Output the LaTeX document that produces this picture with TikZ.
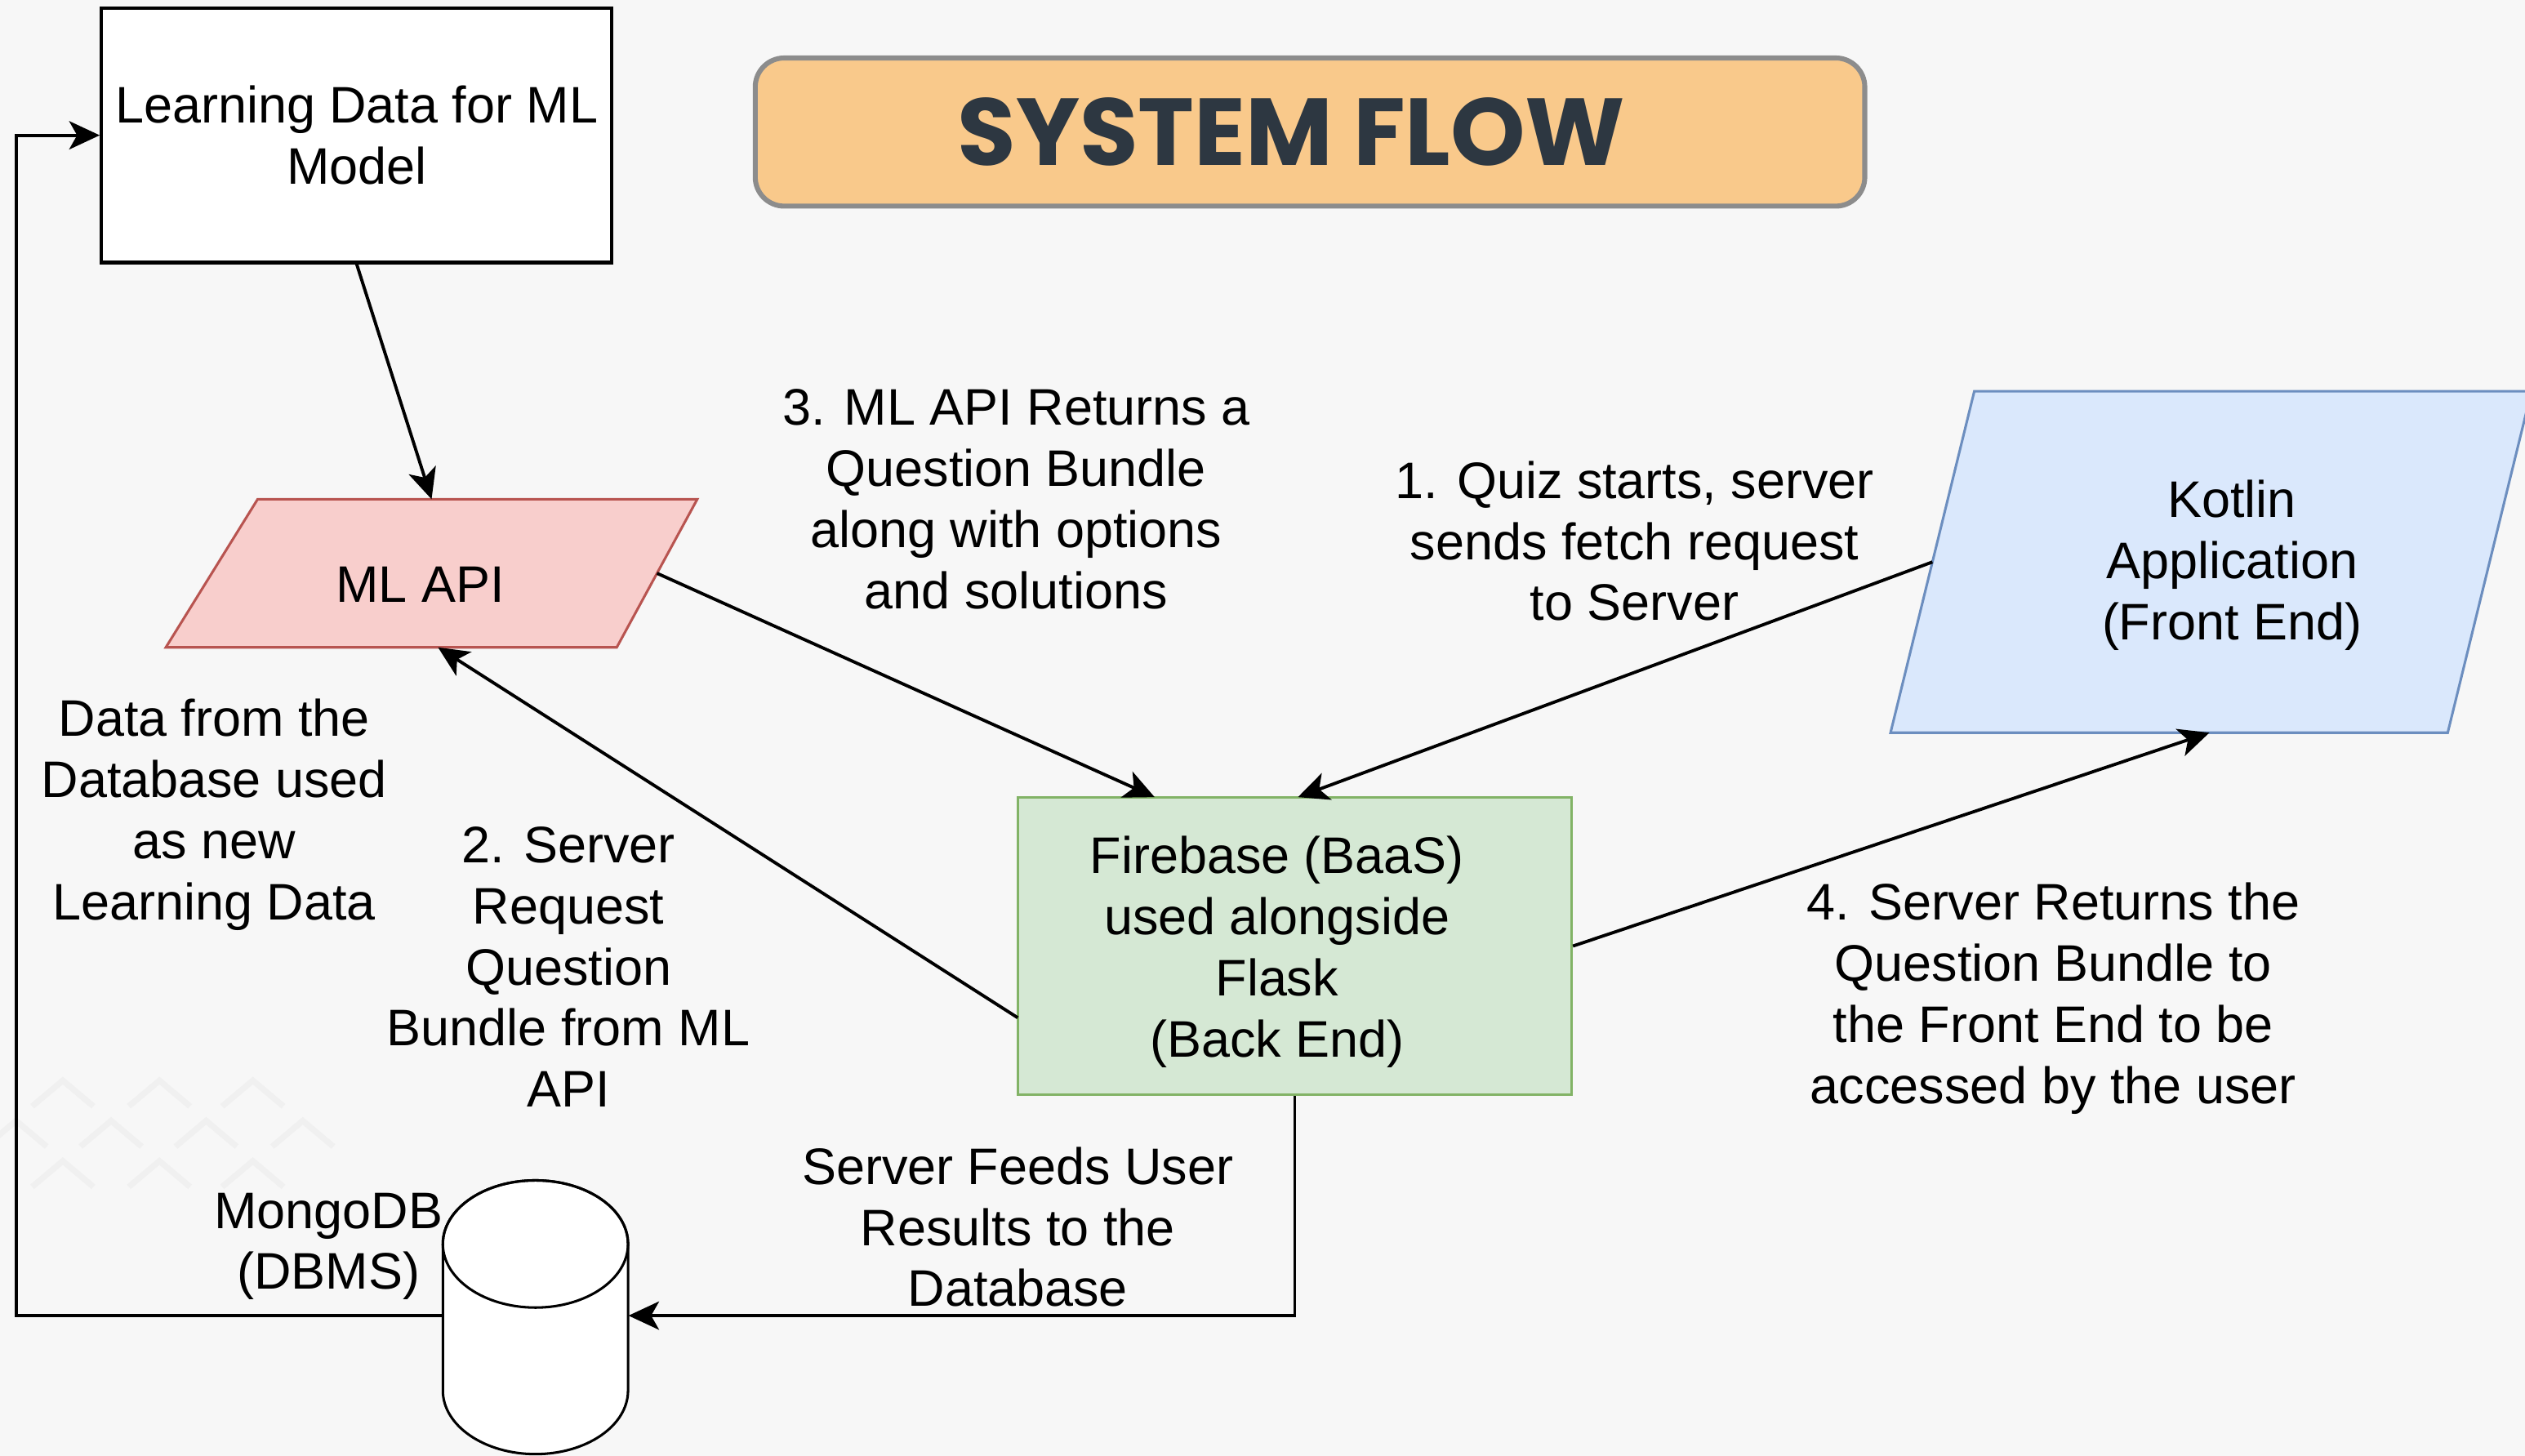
\documentclass[tikz,border=0pt]{standalone}
\usepackage{fontspec}
\setmainfont{Liberation Sans}
\newfontfamily\titlefont{Poppins}
\usetikzlibrary{arrows.meta}
\definecolor{bgc}{HTML}{F7F7F7}
\definecolor{chevc}{HTML}{F0F0F0}
\definecolor{titlefill}{HTML}{F9C98B}
\definecolor{titleborder}{HTML}{8C8C8C}
\definecolor{titletext}{HTML}{2D3741}
\definecolor{redfill}{HTML}{F8CECC}
\definecolor{redline}{HTML}{B85450}
\definecolor{bluefill}{HTML}{DAE8FC}
\definecolor{blueline}{HTML}{6C8EBF}
\definecolor{greenfill}{HTML}{D5E8D4}
\definecolor{greenline}{HTML}{82B366}
\begin{document}
\begin{tikzpicture}[x=0.25mm,y=-0.25mm,
  txt/.style={font=\fontsize{22.7}{27}\selectfont, align=center, inner sep=0pt, text=black},
  conn/.style={line width=1.4pt, -{Stealth[length=13.5pt,width=12.5pt,inset=3.5pt]}},
  chev/.style={chevc, line width=2.6pt},
  plainbox/.style={draw=black, fill=white, line width=1.5pt, inner sep=0pt}]
\useasboundingbox (0,0) rectangle (1568,904);
\fill[bgc] (0,0) rectangle (1568,904);

% faint background chevrons
\foreach \cx in {39,99,157} {
  \draw[chev] (\cx-19,687) -- (\cx,671) -- (\cx+19,687);
  \draw[chev] (\cx-19,737) -- (\cx,721) -- (\cx+19,737);
}
\foreach \cx in {10,69,128,188} {
  \draw[chev] (\cx-19,712) -- (\cx,696) -- (\cx+19,712);
}

% title
\node[draw=titleborder, fill=titlefill, line width=2.2pt, rounded corners=4.5mm,
      minimum width=172.25mm, minimum height=23mm, inner sep=0pt] (title) at (813.5,82) {};
\node[font=\titlefont\bfseries\fontsize{42}{50}\selectfont, text=titletext, inner sep=0pt] (titletxt) at (802,82) {SYSTEM FLOW};

% learning data box
\node[plainbox, minimum width=79.25mm, minimum height=39.5mm, txt] (learn) at (221.5,84) {Learning Data for ML\\Model};

% ML API parallelogram
\filldraw[fill=redfill, draw=redline, line width=1.1pt] (160,310) -- (433,310) -- (383,402) -- (103,402) -- cycle;
\node[txt] (mltxt) at (261,363) {ML API};
\coordinate (mlN) at (268,310);
\coordinate (mlS) at (272,402);
\coordinate (mlE) at (408,356);

% Kotlin parallelogram
\filldraw[fill=bluefill, draw=blueline, line width=1.1pt] (1226,243) -- (1572,243) -- (1520,455) -- (1174,455) -- cycle;
\node[txt] (kttxt) at (1386,351) {Kotlin\\Application\\(Front End)};
\coordinate (ktW) at (1200,349);
\coordinate (ktS) at (1372,455);

% Firebase box
\node[draw=greenline, fill=greenfill, line width=1.1pt, minimum width=86mm, minimum height=46.25mm, inner sep=0pt] (fb) at (804,587.5) {};
\node[txt] (fbtxt) at (793,591) {Firebase (BaaS)\\used alongside\\Flask\\(Back End)};
\coordinate (fbN1) at (717,495);
\coordinate (fbN2) at (806,495);
\coordinate (fbW) at (632,632);

% MongoDB cylinder
\filldraw[fill=white, draw=black, line width=1.1pt]
  (275,772.5) -- (275,863.5) arc[start angle=180, end angle=360, x radius=14.375mm, y radius=9.875mm]
  -- (390,772.5) arc[start angle=0, end angle=180, x radius=14.375mm, y radius=9.875mm] -- cycle;
\draw[black, line width=1.1pt] (332.5,772.5) ellipse [x radius=14.375mm, y radius=9.875mm];
\node[inner sep=0pt, minimum width=28.75mm, minimum height=0pt] (db) at (332.5,817) {};
\node[txt] (dbtxt) at (204,774) {MongoDB\\(DBMS)};
\coordinate (loop) at (10,817);

% labels
\node[txt] (l3) at (631,310) {3. ML API Returns a\\Question Bundle\\along with options\\and solutions};
\node[txt] (l1) at (1015,336) {1. Quiz starts, server\\sends fetch request\\to Server};
\node[txt] (ldata) at (133,506) {Data from the\\Database used\\as new\\Learning Data};
\node[txt] (l2) at (353,600.5) {2. Server\\Request\\Question\\Bundle from ML\\API};
\node[txt] (l4) at (1275,620) {4. Server Returns the\\Question Bundle to\\the Front End to be\\accessed by the user};
\node[txt] (lfeed) at (632,762) {Server Feeds User\\Results to the\\Database};

% connectors
\draw[conn] (learn.south) -- (mlN);
\draw[conn] (mlE) -- (fbN1);
\draw[conn] (ktW) -- (fbN2);
\draw[conn] (fbW) -- (mlS);
\draw[conn] (fb.east) -- (ktS);
\draw[conn] (fb.south) |- (db.east);
\draw[conn] (db.west) -- (loop) |- (learn.west);
\end{tikzpicture}
\end{document}
